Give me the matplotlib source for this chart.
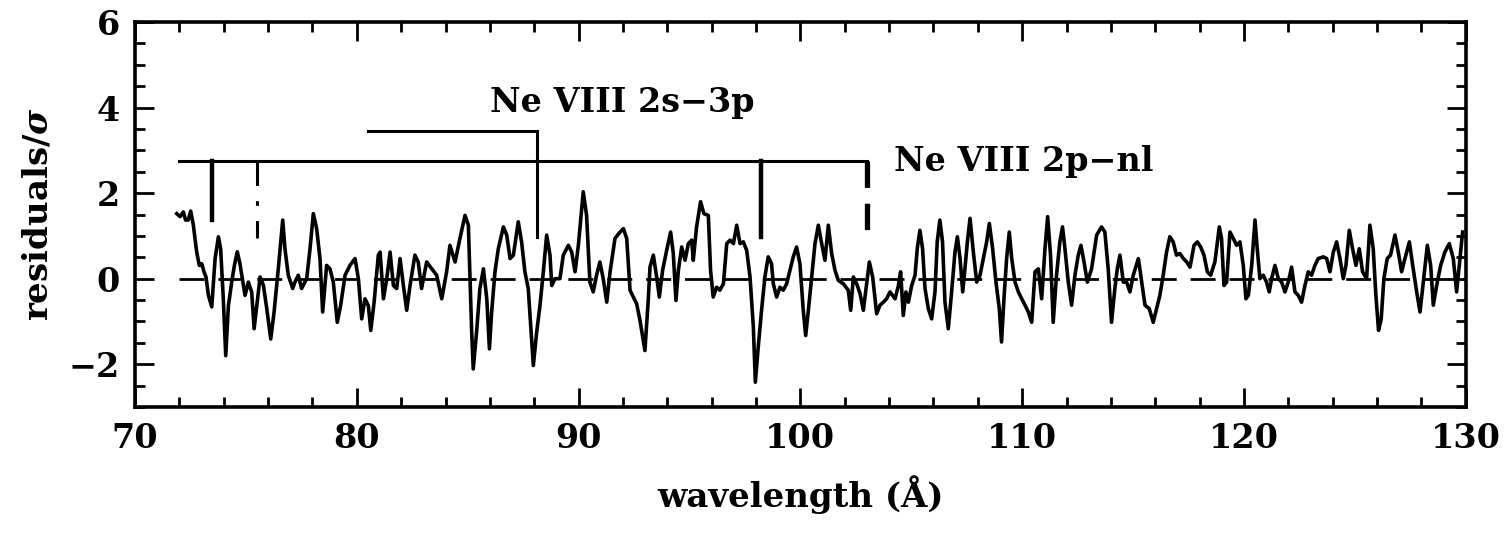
import matplotlib
matplotlib.use("Agg")
import matplotlib.pyplot as plt
import numpy as np
from matplotlib.ticker import MultipleLocator

plt.rcParams['font.family'] = ['DejaVu Serif']
plt.rcParams['font.weight'] = 'bold'
plt.rcParams['mathtext.fontset'] = 'dejavuserif'

# residual spectrum (wavelength in Angstrom, residual / sigma)
wavelength = [
    71.88, 72.03, 72.18, 72.28, 72.40, 72.51, 72.63, 72.78, 72.90, 73.01, 73.11, 73.20, 73.31, 73.46,
    73.61, 73.76, 73.86, 73.98, 74.09, 74.21, 74.36, 74.48, 74.61, 74.73, 74.84, 74.96, 75.11, 75.26,
    75.37, 75.49, 75.64, 75.79, 75.94, 76.12, 76.27, 76.46, 76.66, 76.76, 76.91, 77.11, 77.21, 77.36,
    77.51, 77.74, 77.89, 78.04, 78.19, 78.34, 78.46, 78.64, 78.79, 78.94, 79.12, 79.27, 79.47, 79.69,
    79.92, 80.07, 80.22, 80.37, 80.52, 80.63, 80.78, 80.97,
    81.05, 81.20, 81.35, 81.50, 81.65, 81.80, 81.95, 82.10, 82.25, 82.40, 82.62, 82.77, 82.92, 83.15,
    83.38, 83.60, 83.83, 84.05, 84.20, 84.43, 84.65, 84.88, 85.03, 85.18, 85.25, 85.40, 85.55, 85.71,
    85.86, 85.98, 86.08, 86.23, 86.38, 86.61, 86.76, 86.91, 87.06, 87.28, 87.43, 87.58, 87.73, 87.88,
    87.96, 88.11, 88.26, 88.41, 88.56, 88.71, 88.79, 88.94, 89.16, 89.31, 89.54, 89.69, 89.84, 89.99,
    90.21, 90.36, 90.51, 90.66, 90.81, 90.96, 91.11, 91.27, 91.42, 91.64, 91.87, 92.02, 92.17,
    92.32, 92.47, 92.62, 92.77, 92.92, 92.99, 93.14, 93.22, 93.37, 93.52, 93.64, 93.79, 93.97, 94.15,
    94.27, 94.39, 94.50, 94.65, 94.80, 94.95, 95.10, 95.17, 95.32, 95.50, 95.65, 95.85, 95.95, 96.07,
    96.22, 96.37, 96.53, 96.68, 96.83, 96.98, 97.13, 97.28, 97.43, 97.58, 97.73, 97.88, 97.97, 98.10,
    98.25, 98.40, 98.55, 98.70, 98.78, 98.93, 99.08, 99.23, 99.38, 99.53, 99.68, 99.83, 99.98, 100.13,
    100.24, 100.36, 100.51, 100.66, 100.81, 100.96, 101.11, 101.26, 101.41, 101.56, 101.71, 101.94,
    102.16, 102.27, 102.39, 102.54, 102.69, 102.84, 102.99, 103.11, 103.26, 103.44,
    103.59, 103.74, 103.89, 104.04, 104.27, 104.42, 104.52, 104.64, 104.76, 104.87, 105.02, 105.17,
    105.27, 105.39, 105.51, 105.62, 105.77, 105.92, 106.07, 106.17, 106.29, 106.41, 106.52, 106.67,
    106.82, 106.97, 107.08, 107.20, 107.32, 107.42, 107.53, 107.65, 107.80, 107.95, 108.10, 108.25,
    108.40, 108.52, 108.67, 108.82, 108.97, 109.07, 109.18, 109.30, 109.42, 109.53, 109.68, 109.83,
    109.98, 110.13, 110.28, 110.43, 110.58, 110.73, 110.88, 111.03, 111.15, 111.28, 111.40, 111.55,
    111.70, 111.82, 111.93, 112.08, 112.23, 112.38, 112.53, 112.65, 112.79, 112.94, 113.13, 113.36,
    113.58, 113.73, 113.88, 114.03, 114.18, 114.29, 114.41, 114.56, 114.71, 114.86, 115.01, 115.24,
    115.39, 115.54, 115.73, 115.91, 116.06, 116.21, 116.36, 116.51,
    116.66, 116.81, 116.96, 117.11, 117.27, 117.42, 117.57, 117.75, 117.90, 118.05, 118.20, 118.35,
    118.50, 118.69, 118.89, 118.99, 119.10, 119.22, 119.37, 119.52, 119.67, 119.82, 119.97, 120.09,
    120.20, 120.35, 120.50, 120.60, 120.72, 120.87, 121.02, 121.14, 121.25, 121.40, 121.55, 121.70,
    121.85, 122.00, 122.15, 122.30, 122.45, 122.60, 122.75, 122.90, 123.05, 123.20, 123.35, 123.58,
    123.73, 123.88, 124.03, 124.18, 124.33, 124.48, 124.60, 124.75, 124.90, 125.05, 125.20, 125.35,
    125.53, 125.68, 125.83, 125.95, 126.07, 126.19, 126.31, 126.46, 126.61, 126.81, 126.96, 127.11,
    127.26, 127.46, 127.61, 127.79, 127.94, 128.09, 128.27, 128.42, 128.54, 128.69, 128.87, 129.06,
    129.26, 129.44, 129.59, 129.74, 129.86,
]
residual = [
    1.52, 1.45, 1.56, 1.37, 1.37, 1.58, 1.25, 0.62, 0.31, 0.35, 0.16, 0.04, -0.39, -0.66,
    0.47, 0.98, 0.70, -0.47, -1.80, -0.63, -0.08, 0.31, 0.63, 0.35, 0.00, -0.39, -0.08, -0.31,
    -1.17, -0.63, 0.04, -0.16, -0.70, -1.41, -0.78, 0.23, 1.37, 0.70, 0.08, -0.23, -0.08, 0.08,
    -0.23, 0.00, 0.70, 1.52, 1.17, 0.47, -0.78, 0.31, 0.23, -0.08, -1.02, -0.63, 0.08, 0.31,
    0.47, 0.00, -0.94, -0.47, -0.63, -1.21, -0.55, 0.55,
    0.62, -0.47, 0.00, 0.62, -0.16, -0.23, 0.47, -0.16, -0.74, -0.16, 0.55, 0.39, -0.23, 0.39,
    0.23, 0.08, -0.47, 0.16, 0.78, 0.39, 0.94, 1.48, 1.25, -1.25, -2.11, -1.25, -0.23, 0.23,
    -0.47, -1.64, -0.78, 0.16, 0.70, 1.21, 1.02, 0.47, 0.55, 1.33, 0.86, 0.16, -0.23, -1.41,
    -2.03, -1.25, -0.62, 0.16, 1.02, 0.55, -0.16, 0.00, 0.00, 0.55, 0.78, 0.62, 0.16, 0.78,
    2.03, 1.48, -0.08, -0.31, 0.08, 0.39, 0.00, -0.55, 0.16, 0.94, 1.09, 1.17, 0.94,
    -0.27, -0.43, -0.59, -0.98, -1.45, -1.68, -0.51, 0.27, 0.55, 0.04, -0.43, 0.20, 0.66, 1.09,
    0.59, -0.51, 0.20, 0.74, 0.43, 0.82, 0.90, 0.43, 1.21, 1.80, 1.52, 1.48, 0.20, -0.43,
    -0.20, -0.27, -0.12, 0.82, 0.90, 0.82, 1.25, 0.82, 0.86, 0.66, 0.04, -1.13, -2.42, -1.60,
    -0.74, 0.04, 0.51, 0.35, -0.12, -0.43, -0.20, -0.27, -0.12, 0.20, 0.51, 0.74, 0.35, -0.74,
    -1.33, -0.74, 0.04, 0.82, 1.25, 0.82, 0.43, 1.25, 0.59, 0.20, -0.04, -0.12,
    -0.27, -0.74, 0.04, -0.12, -0.35, -0.74, -0.12, 0.39, 0.04, -0.82,
    -0.62, -0.55, -0.47, -0.31, -0.47, -0.16, 0.16, -0.86, -0.31, -0.55, -0.16, 0.08,
    0.70, 1.13, 0.70, -0.23, -0.70, -0.94, -0.31, 0.86, 1.37, 0.86, -0.55, -1.17,
    -0.31, 0.62, 0.98, 0.47, -0.31, 0.23, 0.86, 1.41, 0.62, -0.08, 0.08, 0.47,
    0.86, 1.29, 0.70, -0.08, -0.70, -1.48, -0.47, 0.47, 1.09, 0.47, -0.08, -0.31,
    -0.47, -0.62, -0.78, -1.02, 0.16, 0.23, -0.47, 0.70, 1.45, 0.55, -1.02, 0.08,
    0.86, 1.21, 0.70, -0.08, -0.62, 0.08, 0.55, 0.78, 0.39, -0.08, 0.23, 1.02,
    1.21, 1.09, 0.23, -1.02, -0.23, 0.23, 0.55, -0.08, -0.08, -0.31, 0.08, 0.47,
    -0.08, -0.62, -0.70, -1.02, -0.70, -0.39, 0.08, 0.62,
    0.98, 0.86, 0.55, 0.59, 0.47, 0.39, 0.27, 0.78, 0.86, 0.74, 0.55, 0.16,
    0.08, 0.39, 1.21, 0.94, -0.16, -0.08, 1.09, 0.94, 0.78, 0.86, 0.31, -0.47,
    -0.39, 0.31, 1.37, 0.70, 0.00, 0.08, -0.08, -0.31, 0.00, 0.31, 0.00, -0.08,
    -0.31, -0.08, 0.27, -0.31, -0.39, -0.55, -0.16, 0.16, 0.08, 0.31, 0.47, 0.51,
    0.47, 0.16, 0.62, 0.86, 0.47, 0.00, 0.31, 1.13, 0.70, 0.31, 0.70, 0.16,
    0.00, 1.25, 0.70, -0.39, -1.21, -0.94, 0.00, 0.47, 0.55, 1.02, 0.62, 0.16,
    0.47, 0.86, 0.31, -0.31, -0.78, -0.08, 0.78, 0.31, -0.62, -0.16, 0.31, 0.62,
    0.82, 0.47, -0.31, 0.47, 1.09,
]

# zero reference line range
zero_range = [72.0, 130.0]

# Ne VIII 2p-nl line identifications
nl_bar_level = 2.75
nl_bar_range = [72.0, 103.0]
nl_solid_pos = [73.47, 98.24]
nl_solid_bottom = [1.36, 0.98]
nl_dashdot_pos = 75.5
nl_dashdot_bottom = 0.95
nl_dashed_pos = 103.0
nl_dashed_bottom = 0.95

# Ne VIII 2s-3p line identification
sp_bar_level = 3.45
sp_bar_range = [80.5, 88.12]
sp_bottom = 0.97

label_2s3p = "Ne VIII 2s\u22123p"
label_2pnl = "Ne VIII 2p\u2212nl"
label_2s3p_pos = (86.0, 4.12)
label_2pnl_pos = (104.2, 2.75)

fig = plt.figure(figsize=(15.07, 5.33), dpi=100)
ax = fig.add_axes([0.0896, 0.2364, 0.883, 0.7223])

lw = 2.6
ax.plot(wavelength, residual, color='black', lw=lw, solid_joinstyle='round')
ax.plot(zero_range, [0, 0], color='black', lw=2.0, linestyle=(0, (9, 5)))

# 2p-nl
ax.plot(nl_bar_range, [nl_bar_level] * 2, color='black', lw=2.2)
for p, b in zip(nl_solid_pos, nl_solid_bottom):
    ax.plot([p, p], [nl_bar_level, b], color='black', lw=3.2)
ax.plot([nl_dashdot_pos] * 2, [nl_bar_level, nl_dashdot_bottom], color='black', lw=2.2,
        linestyle=(0, (8, 5, 1.5, 5)))
ax.plot([nl_dashed_pos] * 2, [nl_bar_level, nl_dashed_bottom], color='black', lw=3.8,
        linestyle=(0, (5, 3, 5, 3.5, 1, 2)))

# 2s-3p
ax.plot(sp_bar_range, [sp_bar_level] * 2, color='black', lw=2.2)
ax.plot([sp_bar_range[1]] * 2, [sp_bar_level, sp_bottom], color='black', lw=2.2)

ax.text(*label_2s3p_pos, label_2s3p, fontsize=24, fontweight='bold', va='center', ha='left')
ax.text(*label_2pnl_pos, label_2pnl, fontsize=24, fontweight='bold', va='center', ha='left')

ax.set_xlim(70, 130)
ax.set_ylim(-3, 6)
ax.xaxis.set_major_locator(MultipleLocator(10))
ax.xaxis.set_minor_locator(MultipleLocator(2))
ax.yaxis.set_major_locator(MultipleLocator(2))
ax.yaxis.set_minor_locator(MultipleLocator(0.5))
ax.tick_params(which='both', direction='in', top=True, right=True, width=2, labelsize=24)
ax.tick_params(which='major', length=14, pad=11)
ax.tick_params(which='minor', length=7)
for lab in ax.get_xticklabels() + ax.get_yticklabels():
    lab.set_fontweight('bold')
for s in ax.spines.values():
    s.set_linewidth(2.6)

ax.set_xlabel("wavelength (\u00c5)", fontsize=24.5, fontweight='bold', labelpad=14)
ax.set_ylabel(r"residuals/$\sigma$", fontsize=24.5, fontweight='bold', labelpad=10)

fig.savefig("out.png", dpi=100)
